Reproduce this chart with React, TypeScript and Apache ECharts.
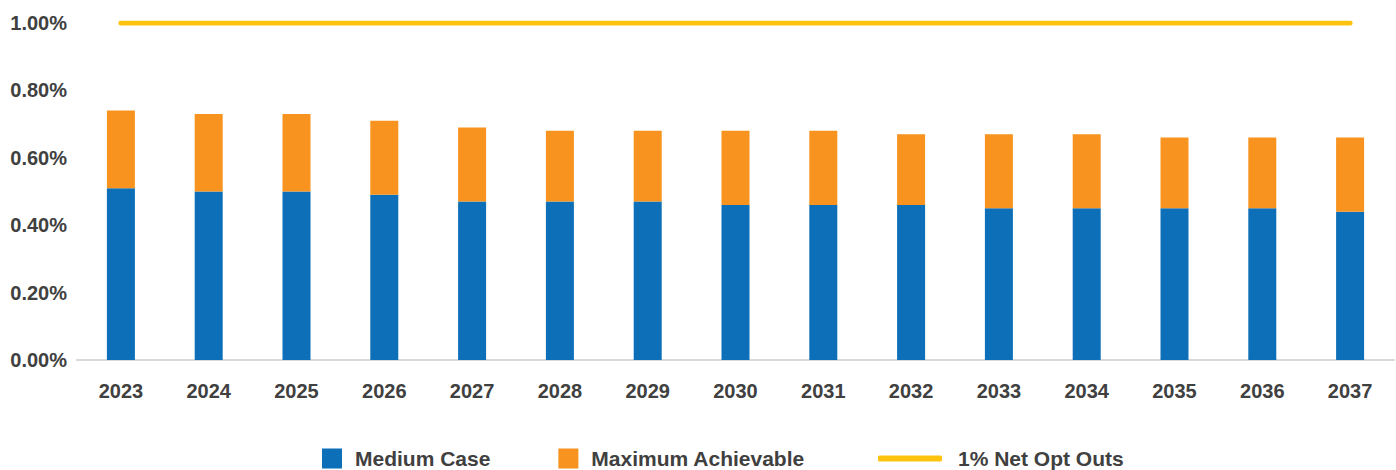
import React, { useEffect, useRef } from "react";
import * as echarts from "echarts";

const categories = ["2023","2024","2025","2026","2027","2028","2029","2030","2031","2032","2033","2034","2035","2036","2037"];
const mediumCase = [0.51,0.50,0.50,0.49,0.47,0.47,0.47,0.46,0.46,0.46,0.45,0.45,0.45,0.45,0.44];
const maximumAchievable = [0.23,0.23,0.23,0.22,0.22,0.21,0.21,0.22,0.22,0.21,0.22,0.22,0.21,0.21,0.22];
const netOptOuts = [1,1,1,1,1,1,1,1,1,1,1,1,1,1,1];

const BLUE = "#0C6FB8";
const ORANGE = "#F7931E";
const YELLOW = "#FFC20E";
const TEXT = "#404040";
const FONT = "'Liberation Sans', Arial, sans-serif";

export default function App() {
  const ref = useRef<HTMLDivElement>(null);
  useEffect(() => {
    if (!ref.current) return;
    const chart = echarts.init(ref.current, undefined, { renderer: "svg" });
    chart.setOption({
      animation: false,
      textStyle: { fontFamily: FONT },
      grid: { left: 77, right: 2, top: 23, bottom: 110 },
      legend: [
        {
          data: ["Medium Case", "Maximum Achievable"],
          left: 322,
          top: 448,
          padding: 0,
          itemGap: 68,
          itemWidth: 20,
          itemHeight: 20,
          icon: "rect",
          textStyle: { color: TEXT, fontSize: 21, fontWeight: "bold", fontFamily: FONT, padding: [0, 0, 0, 8] },
        },
        {
          data: ["1% Net Opt Outs"],
          left: 878,
          top: 448,
          padding: 0,
          itemWidth: 64,
          itemHeight: 6,
          icon: "roundRect",
          textStyle: { color: TEXT, fontSize: 21, fontWeight: "bold", fontFamily: FONT, padding: [0, 0, 0, 11] },
        },
      ],
      xAxis: {
        type: "category",
        data: categories,
        axisTick: { show: false },
        axisLine: { lineStyle: { color: "#D9D9D9", width: 2 } },
        axisLabel: { color: TEXT, fontSize: 20, fontWeight: "bold", fontFamily: FONT, margin: 21 },
      },
      yAxis: {
        type: "value",
        min: 0,
        max: 1,
        interval: 0.2,
        splitLine: { show: false },
        axisLine: { show: false },
        axisTick: { show: false },
        axisLabel: {
          color: TEXT,
          fontSize: 20,
          fontWeight: "bold",
          fontFamily: FONT,
          margin: 10,
          formatter: (v: number) => v.toFixed(2) + "%",
        },
      },
      series: [
        {
          name: "Medium Case",
          type: "bar",
          stack: "total",
          barWidth: 28,
          data: mediumCase,
          itemStyle: { color: BLUE },
        },
        {
          name: "Maximum Achievable",
          type: "bar",
          stack: "total",
          barWidth: 28,
          data: maximumAchievable,
          itemStyle: { color: ORANGE },
        },
        {
          name: "1% Net Opt Outs",
          type: "line",
          data: netOptOuts,
          symbol: "none",
          itemStyle: { color: YELLOW },
          lineStyle: { color: YELLOW, width: 5, cap: "round" },
        },
      ],
    });
    return () => chart.dispose();
  }, []);
  return <div ref={ref} style={{ width: 1396, height: 470, position: "absolute", left: 0, top: 0 }} />;
}
